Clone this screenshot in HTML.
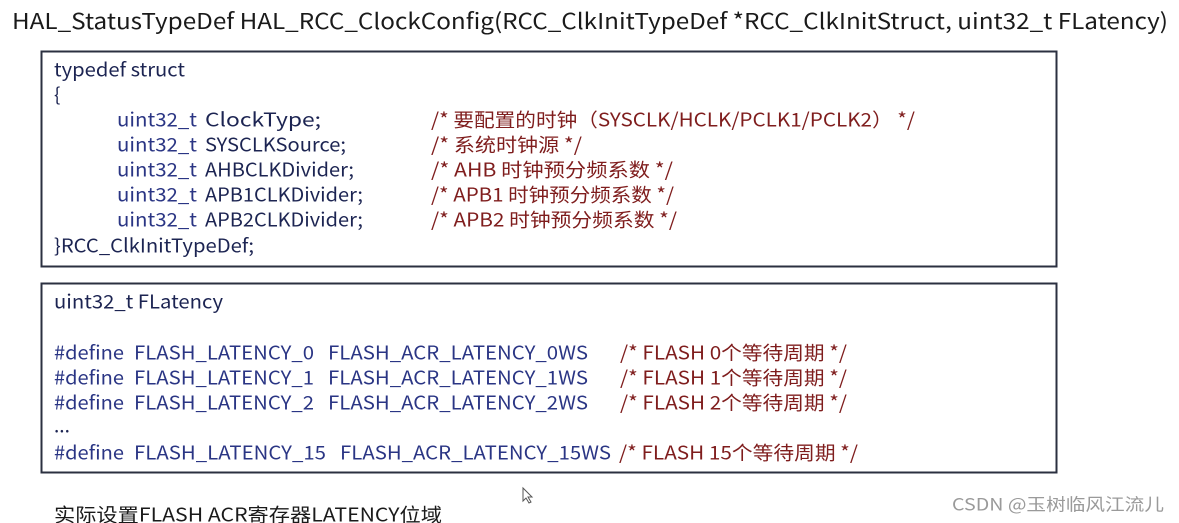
<!DOCTYPE html>
<html><head><meta charset="utf-8"><style>
html,body{margin:0;padding:0;background:#fff;width:1179px;height:523px;overflow:hidden}
svg{display:block}
text{font-family:"Noto Sans CJK SC","Liberation Sans",sans-serif;dominant-baseline:central}
.k{fill:#1c2452}.b{fill:#2a3584}.r{fill:#7f1d1d}.d{fill:#1a1a1a}
</style></head><body>
<svg width="1179" height="523" viewBox="0 0 1179 523" xmlns="http://www.w3.org/2000/svg">
<text class="d" x="12" y="20" font-size="22" textLength="1156" lengthAdjust="spacingAndGlyphs">HAL_StatusTypeDef HAL_RCC_ClockConfig(RCC_ClkInitTypeDef  *RCC_ClkInitStruct, uint32_t FLatency)</text>
<rect x="41.5" y="51.5" width="1015" height="215" fill="none" stroke="#2b3040" stroke-width="2"/>
<rect x="41.5" y="283.5" width="1015" height="189" fill="none" stroke="#2b3040" stroke-width="2"/>
<g font-size="19">
<text class="k" x="54" y="69" textLength="131" lengthAdjust="spacingAndGlyphs">typedef struct</text>
<text class="k" x="54" y="94">{</text>
<text class="b" x="117" y="119" textLength="80" lengthAdjust="spacingAndGlyphs">uint32_t</text>
<text class="b" x="117" y="144" textLength="80" lengthAdjust="spacingAndGlyphs">uint32_t</text>
<text class="b" x="117" y="169" textLength="80" lengthAdjust="spacingAndGlyphs">uint32_t</text>
<text class="b" x="117" y="194" textLength="80" lengthAdjust="spacingAndGlyphs">uint32_t</text>
<text class="b" x="117" y="219" textLength="80" lengthAdjust="spacingAndGlyphs">uint32_t</text>
<text class="k" x="205" y="119" textLength="116" lengthAdjust="spacingAndGlyphs">ClockType;</text>
<text class="k" x="205" y="144" textLength="141" lengthAdjust="spacingAndGlyphs">SYSCLKSource;</text>
<text class="k" x="205" y="169" textLength="149" lengthAdjust="spacingAndGlyphs">AHBCLKDivider;</text>
<text class="k" x="205" y="194" textLength="158" lengthAdjust="spacingAndGlyphs">APB1CLKDivider;</text>
<text class="k" x="205" y="219" textLength="158" lengthAdjust="spacingAndGlyphs">APB2CLKDivider;</text>
<text class="r" x="431" y="119" textLength="484" lengthAdjust="spacingAndGlyphs">/* 要配置的时钟（SYSCLK/HCLK/PCLK1/PCLK2） */</text>
<text class="r" x="431" y="144" textLength="151" lengthAdjust="spacingAndGlyphs">/* 系统时钟源 */</text>
<text class="r" x="431" y="169" textLength="242" lengthAdjust="spacingAndGlyphs">/* AHB  时钟预分频系数 */</text>
<text class="r" x="431" y="194" textLength="243" lengthAdjust="spacingAndGlyphs">/* APB1 时钟预分频系数 */</text>
<text class="r" x="431" y="219" textLength="246" lengthAdjust="spacingAndGlyphs">/* APB2 时钟预分频系数 */</text>
<text class="k" x="54" y="245" textLength="200" lengthAdjust="spacingAndGlyphs">}RCC_ClkInitTypeDef;</text>

<text class="k" x="54" y="301" textLength="169" lengthAdjust="spacingAndGlyphs">uint32_t FLatency</text>
<text class="b" x="54" y="352" textLength="70" lengthAdjust="spacingAndGlyphs">#define</text>
<text class="b" x="54" y="377" textLength="70" lengthAdjust="spacingAndGlyphs">#define</text>
<text class="b" x="54" y="402" textLength="70" lengthAdjust="spacingAndGlyphs">#define</text>
<text class="b" x="54" y="452" textLength="70" lengthAdjust="spacingAndGlyphs">#define</text>
<text class="b" x="134" y="352" textLength="180" lengthAdjust="spacingAndGlyphs">FLASH_LATENCY_0</text>
<text class="b" x="134" y="377" textLength="180" lengthAdjust="spacingAndGlyphs">FLASH_LATENCY_1</text>
<text class="b" x="134" y="402" textLength="180" lengthAdjust="spacingAndGlyphs">FLASH_LATENCY_2</text>
<text class="b" x="134" y="452" textLength="192" lengthAdjust="spacingAndGlyphs">FLASH_LATENCY_15</text>
<text class="b" x="328" y="352" textLength="260" lengthAdjust="spacingAndGlyphs">FLASH_ACR_LATENCY_0WS</text>
<text class="b" x="328" y="377" textLength="260" lengthAdjust="spacingAndGlyphs">FLASH_ACR_LATENCY_1WS</text>
<text class="b" x="328" y="402" textLength="260" lengthAdjust="spacingAndGlyphs">FLASH_ACR_LATENCY_2WS</text>
<text class="b" x="340" y="452" textLength="271" lengthAdjust="spacingAndGlyphs">FLASH_ACR_LATENCY_15WS</text>
<text class="r" x="620" y="352" textLength="227" lengthAdjust="spacingAndGlyphs">/* FLASH 0个等待周期 */</text>
<text class="r" x="620" y="377" textLength="227" lengthAdjust="spacingAndGlyphs">/* FLASH 1个等待周期 */</text>
<text class="r" x="620" y="402" textLength="227" lengthAdjust="spacingAndGlyphs">/* FLASH 2个等待周期 */</text>
<text class="r" x="619" y="452" textLength="239" lengthAdjust="spacingAndGlyphs">/* FLASH 15个等待周期 */</text>
<text class="k" x="54" y="425">...</text>

<text class="d" x="54" y="514" textLength="388" lengthAdjust="spacingAndGlyphs">实际设置FLASH  ACR寄存器LATENCY位域</text>
</g>
<text x="952" y="503" font-size="17" fill="#9a9a9a" textLength="212" lengthAdjust="spacingAndGlyphs">CSDN @玉树临风江流儿</text>
<path d="M523 488 L523 501 L526 498 L529 503 L531 502 L528 497 L532 497 Z" fill="#fff" stroke="#555" stroke-width="1"/>
</svg>
</body></html>
